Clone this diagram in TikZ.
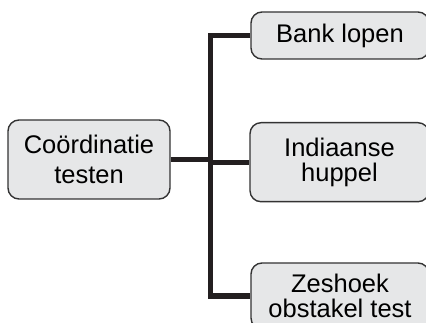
\documentclass[tikz,border=0pt]{standalone}
\usepackage{fontspec}
\setmainfont{Liberation Sans}
\definecolor{boxfill}{HTML}{E6E7E8}
\definecolor{boxline}{HTML}{333333}
\definecolor{connline}{HTML}{231F20}
\tikzset{
  topic/.style={draw=boxline, line width=1.4pt, fill=boxfill, rounded corners=11pt,
    align=center, inner sep=0pt, anchor=center},
  conn/.style={draw=connline, line width=5.3pt, line join=miter},
}
\begin{document}
\begin{tikzpicture}[x=1pt, y=-1pt]
  \useasboundingbox (0,0) rectangle (426,323);
  \clip (0,0) rectangle (426,323);

  % central topic
  \node[topic, minimum width=162pt, minimum height=79pt,
        font=\fontsize{25.5}{30}\selectfont] (coord) at (89,159.5)
        {Co\"ordinatie\\testen};

  % sub topics (right column runs off the page edge)
  \node[topic, minimum width=178pt, minimum height=47pt,
        font=\fontsize{25.5}{26}\selectfont] (bank) at (340,35.5)
        {Bank lopen};
  \node[topic, minimum width=179pt, minimum height=79pt,
        font=\fontsize{25.5}{25.5}\selectfont] (indi) at (339.5,162.2)
        {Indiaanse\\huppel};
  \node[topic, minimum width=178pt, minimum height=66pt,
        font=\fontsize{25.5}{25}\selectfont] (zes) at (340,296)
        {Zeshoek\\obstakel test};

  % connector tree
  \coordinate (jn) at (210.8,160.5);
  \draw[conn] (coord.east) -- (coord.east -| jn);
  \draw[conn] (bank.west) -| (jn) |- (zes.west);
  \draw[conn] (indi.west -| jn) -- (indi.west);
\end{tikzpicture}
\end{document}
